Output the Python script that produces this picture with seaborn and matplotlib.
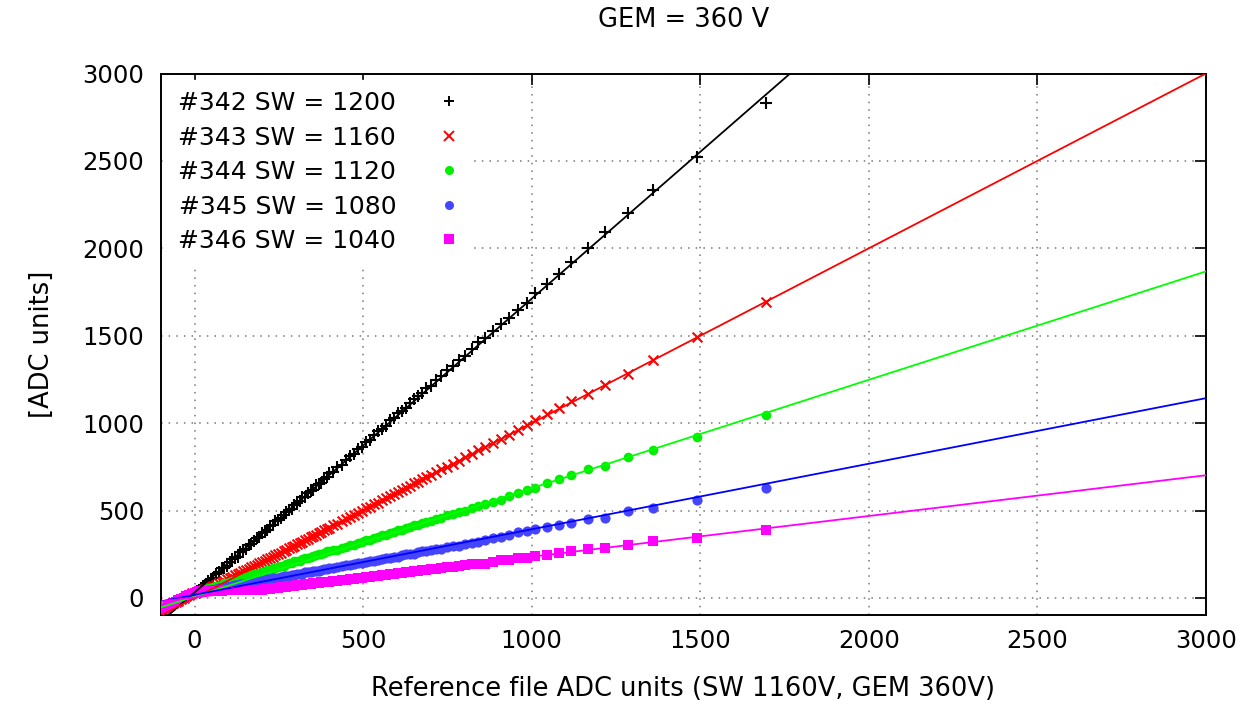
import matplotlib
matplotlib.use("Agg")
import matplotlib.pyplot as plt
from matplotlib.lines import Line2D
import pandas as pd
import seaborn as sns

# shared x (reference file ADC units): dense low range, sparse tail
ref_x = [-95, -88, -80, -72, -64, -56, -48, -40, -32, -24, -16, -8, 0, 6, 12, 18,
         24, 32, 40, 48, 56, 64, 72, 80, 88, 96, 104, 112, 120, 128, 136, 144,
         152, 160, 168, 176, 184, 192, 200, 208, 216, 224, 232, 240, 248, 256,
         264, 272, 280, 288, 296, 304, 312, 320, 328, 336, 344, 352, 360, 368,
         376, 384, 392, 400,
         412, 424, 436, 448, 460, 472, 484, 496, 508, 520, 532, 544, 556, 568,
         580, 592, 604, 616, 628, 640, 652, 664, 676, 688, 700,
         716, 732, 748, 766, 784, 802, 822, 842,
         862, 886, 910, 933, 960, 985, 1010, 1046, 1080, 1118, 1166, 1218,
         1285, 1360, 1490, 1695]

y_342 = [-62, -55, -46, -39, -30, -24, -14, -7, 2, 9, 18, 25, 33, 38, 44, 55,
         70, 76, 100, 106, 116, 139, 148, 169, 173, 183, 205, 221, 229, 237, 261, 272,
         281, 304, 307, 327, 342, 348, 372, 378, 388, 411, 420, 441, 445, 455,
         477, 493, 501, 509, 533, 544, 553, 576, 579, 599, 614, 620, 644, 650,
         660, 683, 692, 713,
         723, 752, 761, 790, 812, 826, 855, 865, 891, 905, 933, 958, 969, 986,
         1016, 1032, 1058, 1070, 1087, 1116, 1140, 1154, 1171, 1199, 1211,
         1247, 1267, 1304, 1326, 1364, 1385, 1426, 1465,
         1490, 1525, 1565, 1600, 1645, 1690, 1745, 1795, 1855, 1920, 2000, 2095,
         2200, 2335, 2525, 2832]

y_343 = [-62, -54, -47, -38, -31, -22, -15, -6, 1, 10, 17, 26, 31, 35, 38, 41,
         44, 50, 56, 63, 70, 77, 84, 92, 99, 106, 115, 121, 130, 137, 144, 153,
         160, 167, 175, 182, 191, 198, 206, 213, 222, 229, 237, 244, 254, 260,
         269, 277, 284, 293, 300, 308, 317, 323, 332, 340, 348, 356, 363, 372,
         379, 388, 395, 403,
         415, 426, 440, 450, 464, 474, 488, 498, 512, 522, 536, 546, 560, 570,
         584, 594, 607, 618, 632, 642, 656, 666, 680, 690, 704,
         718, 735, 750, 769, 786, 805, 823, 845,
         862, 888, 912, 935, 962, 988, 1018, 1050, 1084, 1124, 1166, 1218,
         1284, 1361, 1494, 1694]

y_344 = [-63, -55, -47, -40, -31, -23, -16, -7, 1, 9, 16, 25, 30, 35, 38, 41,
         44, 46, 55, 55, 62, 69, 68, 77, 83, 84, 93, 95, 97, 107, 111, 112,
         122, 123, 129, 136, 135, 144, 151, 151, 160, 161, 170, 170, 177, 185,
         183, 192, 198, 199, 209, 210, 212, 222, 226, 228, 237, 238, 244, 251,
         251, 259, 266, 266,
         273, 276, 288, 291, 302, 305, 317, 319, 331, 333, 345, 347, 358, 361,
         373, 375, 388, 390, 401, 404, 416, 418, 430, 432, 443,
         453, 458, 472, 479, 494, 499, 516, 524,
         535, 550, 563, 584, 601, 617, 632, 657, 678, 702, 735, 756,
         805, 845, 920, 1046]

y_345 = [-62, -56, -46, -39, -32, -23, -15, -8, 2, 9, 17, 24, 31, 34, 37, 39,
         40, 41, 47, 48, 48, 54, 58, 58, 61, 66, 65, 71, 74, 74, 80, 81,
         82, 87, 91, 91, 95, 99, 98, 104, 107, 107, 113, 114, 115, 120,
         124, 124, 128, 132, 131, 137, 140, 140, 146, 147, 148, 154, 157, 157,
         161, 166, 164, 170,
         174, 176, 184, 186, 188, 195, 200, 201, 206, 213, 213, 220, 225, 226,
         231, 237, 237, 245, 250, 251, 254, 261, 266, 267, 273,
         279, 283, 291, 295, 300, 309, 317, 321,
         334, 342, 351, 363, 376, 386, 395, 406, 416, 429, 450, 458,
         498, 517, 563, 632]

y_346 = [-61, -55, -47, -38, -31, -23, -14, -7, 2, 9, 17, 25, 31, 35, 38, 40,
         40, 41, 41, 42, 41, 42, 43, 42, 43, 44, 43, 44, 44, 43, 45, 44,
         45, 46, 45, 47, 47, 48, 48, 50, 52, 54, 55, 57, 59, 61,
         64, 65, 67, 68, 69, 72, 74, 76, 78, 81, 81, 83, 85, 87,
         89, 91, 93, 94,
         98, 99, 104, 105, 110, 111, 115, 116, 121, 122, 126, 127, 132, 133,
         138, 138, 143, 144, 149, 150, 154, 155, 160, 161, 166,
         168, 172, 176, 180, 184, 188, 193, 196,
         197, 206, 217, 220, 231, 231, 239, 246, 256, 267, 279, 288,
         302, 325, 346, 391]

# straight-line fits, drawn across the whole x range
fit_slope = [1.68, 1.0, 0.620, 0.375, 0.233]
fit_intercept = [32, 0, 8, 18, 3]
line_x = [-100, 3000]

labels = ["#342 SW = 1200", "#343 SW = 1160", "#344 SW = 1120",
          "#345 SW = 1080", "#346 SW = 1040"]
line_colors = ["#000000", "#ff0000", "#00ff00", "#0000ff", "#ff00ff"]
marker_colors = ["#000000", "#ff0000", "#00ee00", "#4545ff", "#ff00ff"]
markers = ["+", "x", "o", "o", "s"]
marker_sizes = [80, 50, 48, 54, 44]

series = [y_342, y_343, y_344, y_345, y_346]

sns.set_style("white")
plt.rcParams["font.family"] = ["DejaVu Sans"]
plt.rcParams["text.color"] = "black"
plt.rcParams["axes.labelcolor"] = "black"
plt.rcParams["xtick.color"] = "black"
plt.rcParams["ytick.color"] = "black"

fig = plt.figure(figsize=(12.47, 7.14), dpi=100)
ax = fig.add_axes([0.129, 0.138, 0.838, 0.759])

for i, ys in enumerate(series):
    df = pd.DataFrame({"x": ref_x, "y": ys})
    if markers[i] in ["+", "x"]:
        sns.scatterplot(data=df, x="x", y="y", ax=ax, marker=markers[i],
                        color=marker_colors[i], s=marker_sizes[i], linewidth=1.5,
                        zorder=3, legend=False)
    else:
        sns.scatterplot(data=df, x="x", y="y", ax=ax, marker=markers[i],
                        color=marker_colors[i], s=marker_sizes[i], linewidth=0,
                        zorder=3, legend=False)
    fit_y = [fit_slope[i] * v + fit_intercept[i] for v in line_x]
    sns.lineplot(x=line_x, y=fit_y, ax=ax, color=line_colors[i], linewidth=1.3,
                 zorder=4)

ax.set_xlim(-100, 3000)
ax.set_ylim(-100, 3000)
ax.set_xticks([0, 500, 1000, 1500, 2000, 2500, 3000])
ax.set_yticks([0, 500, 1000, 1500, 2000, 2500, 3000])
ax.tick_params(direction="in", top=True, right=True, length=8, width=1.2,
               labelsize=17.5)
ax.tick_params(axis="x", pad=10)
ax.tick_params(axis="y", pad=12)
ax.grid(True, linestyle=(0, (1, 4)), color="#777777", linewidth=1.1)
for sp in ax.spines.values():
    sp.set_linewidth(1.4)
    sp.set_color("black")

ax.set_xlabel("Reference file ADC units (SW 1160V, GEM 360V)", fontsize=18.5,
              labelpad=16)
ax.set_ylabel("[ADC units]", fontsize=18.5, labelpad=20)
fig.suptitle("GEM = 360 V", fontsize=18.5, x=0.548, y=0.99)

handles = []
for i in range(len(labels)):
    handles.append(Line2D([], [], linestyle="none", marker=markers[i],
                          color=marker_colors[i], markersize=6.5,
                          markeredgewidth=1.4 if markers[i] in ["+", "x"] else 0))
leg = ax.legend(handles, labels, loc="upper left", bbox_to_anchor=(0.0, 1.0),
                markerfirst=False, frameon=True, fancybox=False, framealpha=1,
                edgecolor="white", facecolor="white", fontsize=18,
                handlelength=1.0, handletextpad=1.6, labelspacing=0.42,
                borderpad=0.45, borderaxespad=0.25)
leg.set_zorder(5)

fig.savefig("out.png", dpi=100)
